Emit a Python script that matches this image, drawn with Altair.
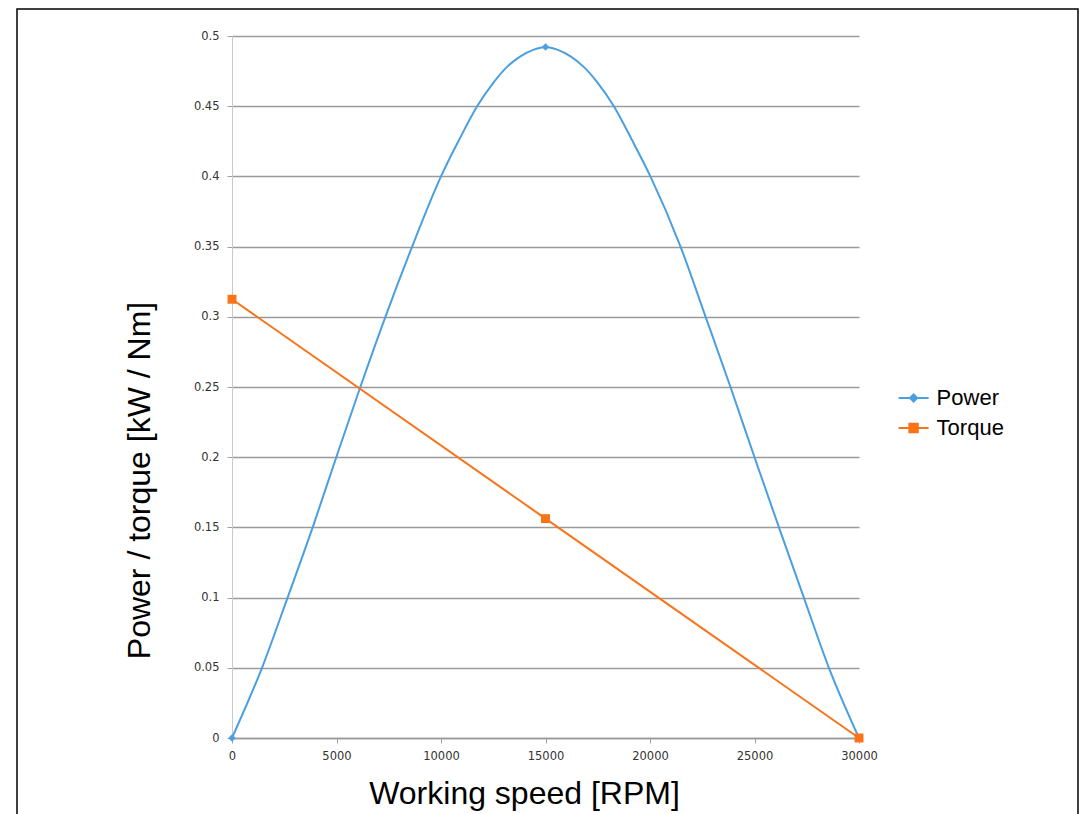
import altair as alt
import pandas as pd

# ---- data ----
series_names = ["Power", "Torque"]
series_colors = ["#4a9fe0", "#fa7319"]

power_speed = [0, 1436, 2660, 3860, 4990, 6140, 7340, 8620, 10000, 10830, 11730,
               12520, 13160, 13800, 14440, 15000, 15560, 16200, 16830, 17480,
               18270, 19170, 20020, 21460, 22660, 23850, 25000, 26170, 27360,
               28560, 30000]
power_kw = [0, 0.05, 0.10, 0.15, 0.20, 0.25, 0.30, 0.35, 0.40, 0.425, 0.45,
            0.467, 0.478, 0.4855, 0.4903, 0.4922, 0.4903, 0.4855, 0.478, 0.467,
            0.45, 0.425, 0.40, 0.35, 0.30, 0.25, 0.20, 0.15, 0.10, 0.05, 0]

torque_speed = [0, 15000, 30000]
torque_nm = [0.3125, 0.15625, 0]

marker_speed = [0, 15000, 30000]
power_marker = [0, 0.4922, 0]

x_ticks = [0, 5000, 10000, 15000, 20000, 25000, 30000]
y_ticks = [0, 0.05, 0.1, 0.15, 0.2, 0.25, 0.3, 0.35, 0.4, 0.45, 0.5]

# legend symbols: a short line with the series marker
legend_paths = [
    "M-1.6,0L1.6,0M0,-0.38L0.38,0L0,0.38L-0.38,0Z",
    "M-1.6,0L1.6,0M-0.45,-0.45L0.45,-0.45L0.45,0.45L-0.45,0.45Z",
]

lines_df = pd.DataFrame(
    {"series": ["Power"] * len(power_speed) + ["Torque"] * len(torque_speed),
     "speed": power_speed + torque_speed,
     "value": power_kw + torque_nm}
)
markers_df = pd.DataFrame(
    {"series": ["Power"] * 3 + ["Torque"] * 3,
     "speed": marker_speed + torque_speed,
     "value": power_marker + torque_nm}
)

font = "Liberation Sans"
tick_font = "DejaVu Sans"

x_enc = alt.X(
    "speed:Q",
    scale=alt.Scale(domain=[0, 30000], nice=False, zero=False),
    axis=alt.Axis(
        values=x_ticks, format="d", title="Working speed [RPM]", labelFlush=False,
        titleFont=font, titleFontSize=32, titleFontWeight="normal", titleColor="black",
        titleX=292, titleY=65, titleBaseline="alphabetic", titleAlign="center",
        labelFont=tick_font, labelFontSize=11.5, labelColor="#333333", labelPadding=7,
        tickSize=5, tickColor="#a0a0a0", domainColor="#999999", domainWidth=1.5,
        grid=False,
    ),
)
y_enc = alt.Y(
    "value:Q",
    scale=alt.Scale(domain=[0, 0.5], nice=False),
    axis=alt.Axis(
        values=y_ticks, labelExpr="format(datum.value, '.2~f')",
        title="Power / torque [kW / Nm]", labelFlush=False,
        titleFont=font, titleFontSize=32, titleFontWeight="normal", titleColor="black",
        titleX=-83, titleY=444, titleBaseline="alphabetic", titleAlign="center", titleAngle=270,
        labelFont=tick_font, labelFontSize=11.5, labelColor="#333333", labelPadding=8,
        tickSize=5, tickColor="#a0a0a0", domainColor="#c8c8c8",
        grid=True, gridColor="#9a9a9a", gridWidth=1.3,
    ),
)

color_scale = alt.Scale(domain=series_names, range=series_colors)

lines = alt.Chart(lines_df).mark_line(strokeWidth=2, interpolate="monotone").encode(
    x=x_enc, y=y_enc,
    color=alt.Color("series:N", scale=color_scale, legend=None),
    order=alt.Order("speed:Q"),
)

markers = alt.Chart(markers_df).mark_point(filled=True, opacity=1).encode(
    x="speed:Q", y="value:Q",
    color=alt.Color("series:N", scale=color_scale, legend=None),
    shape=alt.Shape("series:N", scale=alt.Scale(domain=series_names, range=["diamond", "square"]), legend=None),
    size=alt.Size("series:N", scale=alt.Scale(domain=series_names, range=[55, 80]), legend=None),
)

legend_def = alt.Legend(
    orient="none", legendX=670.6, legendY=351, title=None, padding=0,
    labelFont=font, labelFontSize=22, labelColor="black", labelOffset=12,
    symbolSize=353, symbolStrokeWidth=2, symbolOpacity=1, rowPadding=8,
)
legend_layer = alt.Chart(markers_df).mark_point(filled=True, opacity=0).encode(
    x="speed:Q", y="value:Q",
    color=alt.Color("series:N", scale=color_scale, legend=legend_def),
    stroke=alt.Stroke("series:N", scale=color_scale, legend=legend_def),
    shape=alt.Shape("series:N", scale=alt.Scale(domain=series_names, range=legend_paths), legend=legend_def),
)

frame = alt.Chart(pd.DataFrame({"k": [0]})).mark_rect(
    fillOpacity=0, stroke="black", strokeWidth=1.5, clip=False
).encode(
    x=alt.value(-215), x2=alt.value(846), y=alt.value(-27), y2=alt.value(850)
)

chart = (
    alt.layer(frame, lines, markers, legend_layer)
    .resolve_scale(color="independent", shape="independent", stroke="independent", size="independent")
    .properties(
        width=627, height=702,
        autosize=alt.AutoSizeParams(type="none"),
        padding={"left": 224, "top": 28, "right": 224, "bottom": 90},
        background="white",
    )
    .configure_view(strokeWidth=0)
)

chart.save("out.html", embed_options={"renderer": "svg", "actions": False})
